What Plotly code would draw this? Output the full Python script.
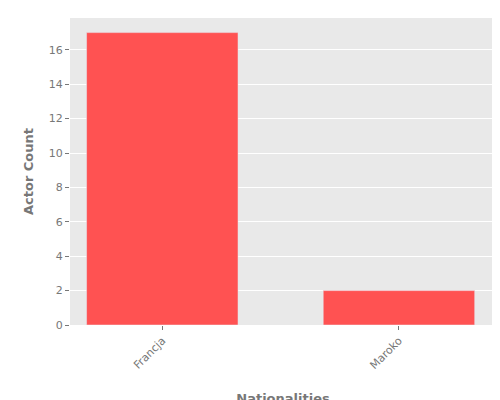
import plotly.graph_objects as go

categories = ["Francja", "Maroko"]
counts = [17, 2]

fig = go.Figure(go.Bar(x=categories, y=counts, marker_color="#FF5252", width=0.64))
fig.update_layout(
    width=500, height=400,
    margin=dict(l=62, r=12, t=10, b=83),
    plot_bgcolor="#E9E9E9", paper_bgcolor="white",
    font=dict(family="DejaVu Sans", color="#777777", size=11),
    showlegend=False,
)
fig.update_xaxes(title=dict(text="<b>Nationalities</b>", font=dict(size=13), standoff=22),
                 tickangle=-45, range=[-0.39, 1.41], automargin=False,
                 showgrid=False, ticks="outside", ticklen=4, tickcolor="#777777")
fig.update_yaxes(title=dict(text="<b>Actor Count</b>", font=dict(size=13), standoff=12),
                 range=[0, 17.85], automargin=False,
                 dtick=2, gridcolor="white", ticks="outside", ticklen=4, tickcolor="#777777",
                 zeroline=False)
fig.write_html("out.html")
